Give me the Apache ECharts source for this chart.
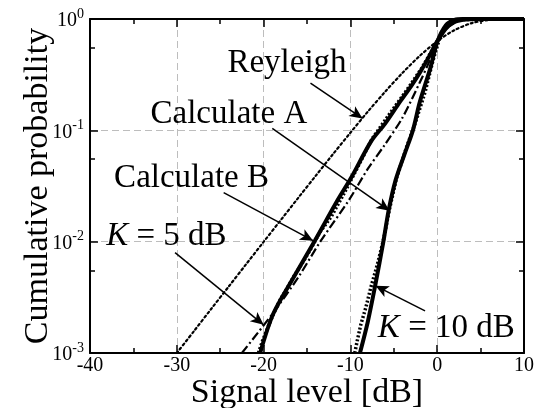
<!DOCTYPE html>
<html>
<head>
<meta charset="utf-8">
<script src="https://cdn.jsdelivr.net/npm/echarts@6/dist/echarts.min.js"></script>
<style>
  html, body { margin: 0; padding: 0; background: #fff; }
  #chart { width: 551px; height: 408px; }
</style>
</head>
<body>
<div id="chart"></div>
<script>
// Cumulative distribution of received signal level (dB re. mean power)

// Rayleigh reference curve
const rayleighDb = [-30, -28, -26, -24, -22, -20, -18, -16, -14, -12, -10, -8, -6, -4, -2, 0, 2, 4, 6, 8, 10];
const rayleighP  = [0.001, 0.00158, 0.00251, 0.00397, 0.00629, 0.00995, 0.0157, 0.0248, 0.039, 0.0612, 0.0952, 0.147, 0.222, 0.328, 0.467, 0.632, 0.795, 0.919, 0.981, 0.998, 1.0];

// K = 5 dB, thick solid curve
const k5SolidDb = [-20.4, -18.9, -16.6, -14.1, -11.5, -9.9, -7.6, -6.0, -4.3, -3.0, -2.0, -1.0, 0, 1, 2, 3, 4, 5, 10];
const k5SolidP  = [0.001, 0.00224, 0.0047, 0.0102, 0.0234, 0.0377, 0.080, 0.115, 0.18, 0.25, 0.33, 0.45, 0.63, 0.82, 0.94, 0.985, 0.997, 1.0, 1.0];

// K = 5 dB, dash-dot curve
const k5DashDb = [-22.5, -19.0, -16.0, -13.4, -10.2, -8.0, -6.0, -4.0, -2.0, -1.0, 0, 1, 2, 3, 4, 5, 10];
const k5DashP  = [0.001, 0.00224, 0.0048, 0.0102, 0.0234, 0.045, 0.075, 0.13, 0.27, 0.40, 0.62, 0.81, 0.93, 0.98, 0.996, 1.0, 1.0];

// K = 5 dB, measured points
const k5MeasDb = [-20.6, -20.1, -19.5, -18.8, -18.1, -17.3, -16.5, -15.6, -14.6, -13.5, -12.2, -10.8, -9.2, -7.5, -5.5, -3.5, -1.8, 0, 1, 2, 3, 5, 10];
const k5MeasP  = [0.001, 0.0013, 0.0017, 0.0023, 0.003, 0.0038, 0.0049, 0.0063, 0.0085, 0.0122, 0.0168, 0.0265, 0.046, 0.084, 0.14, 0.23, 0.36, 0.63, 0.83, 0.95, 0.988, 1.0, 1.0];

// K = 10 dB, thick solid curve
const k10SolidDb = [-8.9, -8.0, -7.1, -6.2, -5.6, -4.8, -3.8, -2.8, -2.0, -0.8, 0, 1, 2, 3, 4, 10];
const k10SolidP  = [0.001, 0.0019, 0.0042, 0.0100, 0.019, 0.0355, 0.060, 0.100, 0.18, 0.36, 0.62, 0.88, 0.98, 0.999, 1.0, 1.0];

// K = 10 dB, measured points
const k10MeasDb = [-9.5, -9.2, -8.8, -8.2, -7.6, -6.9, -6.2, -5.5, -4.7, -3.6, -2.5, -1.4, -0.5, 0.3, 1, 2, 3, 4, 10];
const k10MeasP  = [0.001, 0.0013, 0.0018, 0.0026, 0.0040, 0.0062, 0.0103, 0.0195, 0.037, 0.068, 0.118, 0.22, 0.42, 0.68, 0.87, 0.975, 0.998, 1.0, 1.0];

// Axis ticks
const xTicks = [-40, -30, -20, -10, 0, 10];
const yDecades = [-3, -2, -1, 0];

const zip = (xs, ys) => xs.map((x, i) => [x, ys[i]]);

const FONT = '"Liberation Serif", "Times New Roman", serif';

// Annotation texts and arrows, in axis units (dB, probability)
const notes = [
  { text: 'Reyleigh', at: [-17.3, 0.40] },
  { text: 'Calculate A', at: [-24.0, 0.14] },
  { text: 'Calculate B', at: [-28.3, 0.037] },
  { text: '{i|K} = 5 dB', at: [-31.2, 0.0112] },
  { text: '{i|K} = 10 dB', at: [1.05, 0.00165] }
];
const arrows = [
  [[-14.6, 0.265], [-8.6, 0.128]],
  [[-19.0, 0.104], [-5.5, 0.019]],
  [[-24.6, 0.0276], [-14.3, 0.0102]],
  [[-30.2, 0.00796], [-20.0, 0.00179]],
  [[-1.4, 0.00239], [-7.1, 0.00401]]
];

const chart = echarts.init(document.getElementById('chart'), null, { renderer: 'canvas' });

const gridLine = { show: true, lineStyle: { color: '#bdbdbd', width: 1, type: [7, 4] } };
const axisLine = { show: true, onZero: false, lineStyle: { color: '#000', width: 2 } };
const majorTick = { show: true, inside: true, length: 8, lineStyle: { color: '#000', width: 1.5 } };
const minorTick = { show: true, splitNumber: 2, length: 5, lineStyle: { color: '#000', width: 1.5 } };

const supLabel = v => {
  const e = Math.round(Math.log10(v));
  return '{b|10}{s|' + e + '}';
};

const option = {
  animation: false,
  backgroundColor: '#fff',
  textStyle: { fontFamily: FONT },
  grid: { left: 90, right: 27, top: 19, bottom: 55, containLabel: false, outerBoundsMode: 'none' },
  xAxis: [
    {
      type: 'value', min: xTicks[0], max: xTicks[xTicks.length - 1], interval: 10,
      position: 'bottom',
      name: 'Signal level [dB]', nameLocation: 'middle', nameGap: 23, nameMoveOverlap: false,
      nameTextStyle: { fontFamily: FONT, fontSize: 34, color: '#000' },
      axisLine: axisLine, axisTick: majorTick, minorTick: minorTick,
      splitLine: gridLine,
      axisLabel: { fontFamily: FONT, fontSize: 20, color: '#000', margin: 3 }
    },
    {
      type: 'value', min: xTicks[0], max: xTicks[xTicks.length - 1], interval: 10,
      position: 'top',
      axisLine: axisLine, axisTick: majorTick, minorTick: minorTick,
      splitLine: { show: false }, axisLabel: { show: false }
    }
  ],
  yAxis: [
    {
      type: 'log', logBase: 10,
      min: Math.pow(10, yDecades[0]), max: Math.pow(10, yDecades[yDecades.length - 1]),
      position: 'left',
      name: 'Cumulative probability', nameLocation: 'middle', nameGap: 35, nameMoveOverlap: false,
      nameTextStyle: { fontFamily: FONT, fontSize: 34, color: '#000' },
      axisLine: axisLine, axisTick: majorTick, minorTick: minorTick,
      splitLine: gridLine,
      axisLabel: {
        margin: 6, color: '#000', fontFamily: FONT, fontSize: 20, formatter: supLabel,
        rich: {
          b: { fontFamily: FONT, fontSize: 20, color: '#000', lineHeight: 24, verticalAlign: 'bottom' },
          s: { fontFamily: FONT, fontSize: 14, color: '#000', lineHeight: 24, verticalAlign: 'top' }
        }
      }
    },
    {
      type: 'log', logBase: 10,
      min: Math.pow(10, yDecades[0]), max: Math.pow(10, yDecades[yDecades.length - 1]),
      position: 'right',
      axisLine: axisLine, axisTick: majorTick, minorTick: minorTick,
      splitLine: { show: false }, axisLabel: { show: false }
    }
  ],
  series: [
    {
      name: 'Rayleigh', type: 'line', data: zip(rayleighDb, rayleighP),
      showSymbol: false, smooth: 0.3, z: 3,
      lineStyle: { color: '#000', width: 2.2, type: [2, 3], cap: 'round' }
    },
    {
      name: 'K5 dash-dot', type: 'line', data: zip(k5DashDb, k5DashP),
      showSymbol: false, smooth: 0.3, z: 3,
      lineStyle: { color: '#000', width: 2.2, type: [9, 3, 2, 3] }
    },
    {
      name: 'K5 solid', type: 'line', data: zip(k5SolidDb, k5SolidP),
      showSymbol: false, smooth: 0.3, z: 4,
      lineStyle: { color: '#000', width: 4 }
    },
    {
      name: 'K5 measured', type: 'line', data: zip(k5MeasDb, k5MeasP),
      showSymbol: false, smooth: false, z: 4,
      lineStyle: { color: '#000', width: 3.5, type: [2, 2] }
    },
    {
      name: 'K10 solid', type: 'line', data: zip(k10SolidDb, k10SolidP),
      showSymbol: false, smooth: 0.3, z: 4,
      lineStyle: { color: '#000', width: 4 }
    },
    {
      name: 'K10 measured', type: 'line', data: zip(k10MeasDb, k10MeasP),
      showSymbol: false, smooth: false, z: 4,
      lineStyle: { color: '#000', width: 3.5, type: [2, 2] }
    },
    {
      name: 'annotations', type: 'line', data: [], z: 6, silent: true,
      markLine: {
        silent: true, symbol: ['none', 'arrow'], symbolSize: [9, 13],
        label: { show: false },
        lineStyle: { color: '#000', width: 1.5, type: 'solid' },
        data: arrows.map(a => [{ coord: a[0] }, { coord: a[1] }])
      },
      markPoint: {
        silent: true, symbol: 'circle', symbolSize: 0,
        data: notes.map(n => ({ coord: n.at, value: n.text })),
        label: {
          show: true, position: 'inside', color: '#000',
          fontFamily: FONT, fontSize: 33,
          formatter: p => p.value,
          rich: { i: { fontFamily: FONT, fontSize: 33, fontStyle: 'italic', color: '#000' } }
        }
      }
    }
  ]
};

chart.setOption(option);
</script>
</body>
</html>
